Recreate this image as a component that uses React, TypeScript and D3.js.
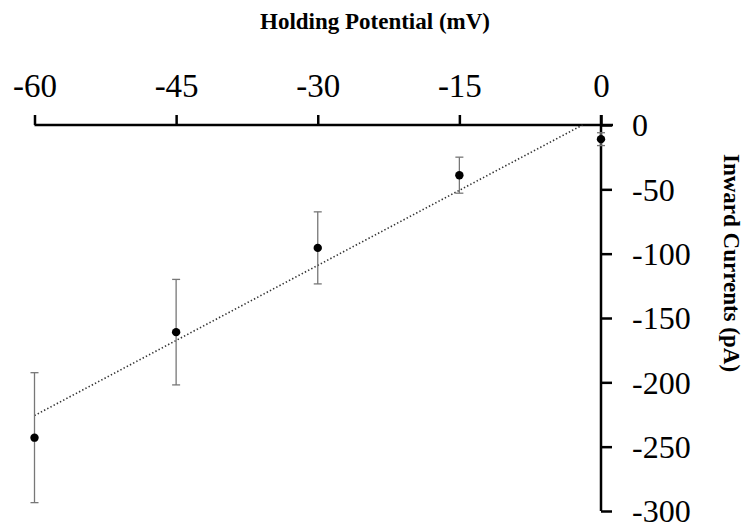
import React, { useEffect, useRef } from "react";
import * as d3 from "d3";

// holding potential (mV), mean inward current (pA), error (pA)
const potentials = [-60, -45, -30, -15, 0];
const currents = [-243, -161, -95.5, -39, -11];
const errors = [50.5, 41, 28, 14, 5];
const xTicks = [-60, -45, -30, -15, 0];
const yTicks = [0, -50, -100, -150, -200, -250, -300];
// linear fit drawn as a dotted line
const fitSlope = 3.89;
const fitIntercept = 7.6;

const width = 744;
const height = 522;

export default function App() {
  const ref = useRef<SVGSVGElement>(null);

  useEffect(() => {
    const svg = d3.select(ref.current);
    svg.selectAll("*").remove();

    const x = d3.scaleLinear().domain([-60, 0]).range([34.5, 601]);
    const y = d3.scaleLinear().domain([0, -300]).range([125, 511]);
    const font = "'Liberation Serif', 'Times New Roman', serif";
    const fmt = (d: d3.NumberValue) => String(d);

    // x axis (top)
    const gx = svg.append("g").attr("transform", `translate(0,${y(0)})`);
    gx.call(d3.axisTop(x).tickValues(xTicks).tickSize(10).tickSizeOuter(0).tickFormat(fmt));
    gx.select(".domain").remove();
    gx.append("line")
      .attr("x1", x(-60)).attr("x2", x(0) + 12)
      .attr("stroke", "#000").attr("stroke-width", 2.5);
    gx.selectAll(".tick line").attr("stroke", "#000").attr("stroke-width", 2.5);
    gx.selectAll(".tick text")
      .attr("y", -28)
      .attr("dy", 0)
      .attr("fill", "#000")
      .style("font-family", font)
      .style("font-size", "33px");

    // y axis (right)
    const gy = svg.append("g").attr("transform", `translate(${x(0)},0)`);
    gy.call(d3.axisRight(y).tickValues(yTicks).tickSize(11).tickSizeOuter(0).tickFormat(fmt));
    gy.select(".domain").remove();
    gy.append("line")
      .attr("y1", y(0) - 10).attr("y2", y(-300))
      .attr("stroke", "#000").attr("stroke-width", 2.5);
    gy.selectAll(".tick line").attr("stroke", "#000").attr("stroke-width", 2.5);
    gy.selectAll(".tick text")
      .attr("x", 31)
      .attr("dy", "0.34em")
      .attr("fill", "#000")
      .style("font-family", font)
      .style("font-size", "32px");

    // titles
    svg.append("text")
      .attr("x", 375).attr("y", 29)
      .attr("text-anchor", "middle")
      .style("font-family", font).style("font-size", "23px").style("font-weight", "bold")
      .text("Holding Potential (mV)");
    svg.append("text")
      .attr("transform", `translate(724,${263}) rotate(90)`)
      .attr("text-anchor", "middle")
      .style("font-family", font).style("font-size", "23px").style("font-weight", "bold")
      .text("Inward Currents (pA)");

    // fit line
    const xEnd = -fitIntercept / fitSlope;
    svg.append("line")
      .attr("x1", x(-60)).attr("y1", y(fitSlope * -60 + fitIntercept))
      .attr("x2", x(xEnd)).attr("y2", y(0))
      .attr("stroke", "#333").attr("stroke-width", 1.6)
      .attr("stroke-dasharray", "1.4,2.2");

    const data = potentials.map((p, i) => ({ p, c: currents[i], e: errors[i] }));

    // error bars
    const eb = svg.append("g").attr("stroke", "#777").attr("stroke-width", 1.3);
    data.forEach((d) => {
      const cx = x(d.p);
      eb.append("line").attr("x1", cx).attr("x2", cx).attr("y1", y(d.c + d.e)).attr("y2", y(d.c - d.e));
      eb.append("line").attr("x1", cx - 4).attr("x2", cx + 4).attr("y1", y(d.c + d.e)).attr("y2", y(d.c + d.e));
      eb.append("line").attr("x1", cx - 4).attr("x2", cx + 4).attr("y1", y(d.c - d.e)).attr("y2", y(d.c - d.e));
    });

    // points
    svg.append("g")
      .selectAll("circle")
      .data(data)
      .join("circle")
      .attr("cx", (d) => x(d.p))
      .attr("cy", (d) => y(d.c))
      .attr("r", 4.2)
      .attr("fill", "#000");
  }, []);

  return (
    <svg
      ref={ref}
      width={width}
      height={height}
      style={{ position: "absolute", left: 0, top: 0, background: "#fff" }}
    />
  );
}
